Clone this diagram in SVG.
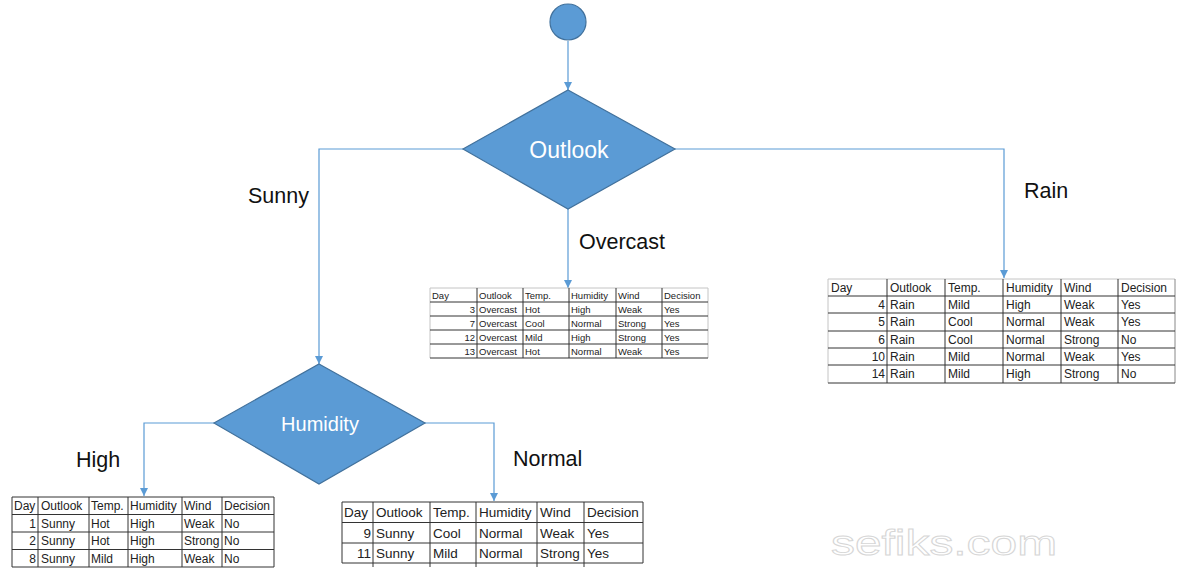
<svg xmlns="http://www.w3.org/2000/svg" width="1185" height="575" viewBox="0 0 1185 575">
<defs>
<style>
.shape{fill:#5B9BD5;stroke:#41719C;stroke-width:1.2}
.conn{fill:none;stroke:#5B9BD5;stroke-width:1.2}
.lbl{font-family:"Liberation Sans",Arial,sans-serif;font-size:21.5px;fill:#111}
.ntxt{font-family:"Liberation Sans",Arial,sans-serif;fill:#fff;text-anchor:middle}
.t{font-family:"Liberation Sans",Arial,sans-serif;fill:#222}
.r{text-anchor:end}
.dk{stroke:#333;stroke-width:1;fill:none}
.lt{stroke:#c4c4c4;stroke-width:1;fill:none}
</style>
<marker id="ah" viewBox="0 0 10 10" refX="10" refY="5" markerWidth="8" markerHeight="8" markerUnits="userSpaceOnUse" orient="auto">
<path d="M0,0 L10,5 L0,10 z" fill="#5B9BD5"/>
</marker>
</defs>
<rect width="1185" height="575" fill="#fff"/>

<g id="connectors">
<path class="conn" d="M568,41 V90" marker-end="url(#ah)"/>
<path class="conn" d="M463,149 H319 V364" marker-end="url(#ah)"/>
<path class="conn" d="M568,209 V288" marker-end="url(#ah)"/>
<path class="conn" d="M675,149 H1004 V278" marker-end="url(#ah)"/>
<path class="conn" d="M214,423 H144 V496" marker-end="url(#ah)"/>
<path class="conn" d="M425,423 H494 V501" marker-end="url(#ah)"/>
<text class="lbl" x="248" y="203">Sunny</text>
<text class="lbl" x="579" y="249">Overcast</text>
<text class="lbl" x="1024" y="198">Rain</text>
<text class="lbl" x="76" y="467">High</text>
<text class="lbl" x="513" y="466">Normal</text>
</g>

<g id="start">
<circle class="shape" cx="568" cy="22" r="18"/>
</g>

<g id="outlook">
<polygon class="shape" points="568,90 675,149 568,209 463,149"/>
<text class="ntxt" x="569" y="158" font-size="23">Outlook</text>
</g>

<g id="humidity">
<polygon class="shape" points="319,364 425,423 319,484 214,423"/>
<text class="ntxt" x="320" y="431" font-size="20">Humidity</text>
</g>

<g id="overcast-table" font-size="9.5">
<path class="lt" d="M430,288 H708 M430,288 V358 M708,288 V358"/>
<path class="dk" d="M430,302 H708 M430,316 H708 M430,330 H708 M430,344 H708 M430,358 H708 M477,288 V358 M523,288 V358 M569,288 V358 M616,288 V358 M662,288 V358"/>
<g class="t">
<text x="432" y="298.5">Day</text><text x="479" y="298.5">Outlook</text><text x="525" y="298.5">Temp.</text><text x="571" y="298.5">Humidity</text><text x="618" y="298.5">Wind</text><text x="664" y="298.5">Decision</text>
<text class="r" x="475" y="312.5">3</text><text x="479" y="312.5">Overcast</text><text x="525" y="312.5">Hot</text><text x="571" y="312.5">High</text><text x="618" y="312.5">Weak</text><text x="664" y="312.5">Yes</text>
<text class="r" x="475" y="326.5">7</text><text x="479" y="326.5">Overcast</text><text x="525" y="326.5">Cool</text><text x="571" y="326.5">Normal</text><text x="618" y="326.5">Strong</text><text x="664" y="326.5">Yes</text>
<text class="r" x="475" y="340.5">12</text><text x="479" y="340.5">Overcast</text><text x="525" y="340.5">Mild</text><text x="571" y="340.5">High</text><text x="618" y="340.5">Strong</text><text x="664" y="340.5">Yes</text>
<text class="r" x="475" y="354.5">13</text><text x="479" y="354.5">Overcast</text><text x="525" y="354.5">Hot</text><text x="571" y="354.5">Normal</text><text x="618" y="354.5">Weak</text><text x="664" y="354.5">Yes</text>
</g>
</g>

<g id="rain-table" font-size="12">
<path class="lt" d="M828,279 H1175 M828,279 V383"/>
<path d="M1175,279 V383" stroke="#888" fill="none"/>
<path class="dk" d="M828,296 H1175 M828,313 H1175 M828,331 H1175 M828,348 H1175 M828,365 H1175 M828,383 H1175 M887,279 V383 M945,279 V383 M1003,279 V383 M1061,279 V383 M1118,279 V383"/>
<g class="t">
<text x="831" y="292">Day</text><text x="890" y="292">Outlook</text><text x="948" y="292">Temp.</text><text x="1006" y="292">Humidity</text><text x="1064" y="292">Wind</text><text x="1121" y="292">Decision</text>
<text class="r" x="885" y="309">4</text><text x="890" y="309">Rain</text><text x="948" y="309">Mild</text><text x="1006" y="309">High</text><text x="1064" y="309">Weak</text><text x="1121" y="309">Yes</text>
<text class="r" x="885" y="326">5</text><text x="890" y="326">Rain</text><text x="948" y="326">Cool</text><text x="1006" y="326">Normal</text><text x="1064" y="326">Weak</text><text x="1121" y="326">Yes</text>
<text class="r" x="885" y="344">6</text><text x="890" y="344">Rain</text><text x="948" y="344">Cool</text><text x="1006" y="344">Normal</text><text x="1064" y="344">Strong</text><text x="1121" y="344">No</text>
<text class="r" x="885" y="361">10</text><text x="890" y="361">Rain</text><text x="948" y="361">Mild</text><text x="1006" y="361">Normal</text><text x="1064" y="361">Weak</text><text x="1121" y="361">Yes</text>
<text class="r" x="885" y="378">14</text><text x="890" y="378">Rain</text><text x="948" y="378">Mild</text><text x="1006" y="378">High</text><text x="1064" y="378">Strong</text><text x="1121" y="378">No</text>
</g>
</g>

<g id="high-table" font-size="12">
<path class="dk" d="M12,497 H274 M12,514.5 H274 M12,532 H274 M12,549.5 H274 M12,567 H274 M12,497 V567 M38,497 V567 M89,497 V567 M128,497 V567 M182,497 V567 M222,497 V567 M274,497 V567"/>
<g class="t">
<text x="14" y="510">Day</text><text x="41" y="510">Outlook</text><text x="91" y="510">Temp.</text><text x="130" y="510">Humidity</text><text x="184" y="510">Wind</text><text x="224" y="510">Decision</text>
<text class="r" x="36" y="527.5">1</text><text x="41" y="527.5">Sunny</text><text x="91" y="527.5">Hot</text><text x="130" y="527.5">High</text><text x="184" y="527.5">Weak</text><text x="224" y="527.5">No</text>
<text class="r" x="36" y="545">2</text><text x="41" y="545">Sunny</text><text x="91" y="545">Hot</text><text x="130" y="545">High</text><text x="184" y="545">Strong</text><text x="224" y="545">No</text>
<text class="r" x="36" y="562.5">8</text><text x="41" y="562.5">Sunny</text><text x="91" y="562.5">Mild</text><text x="130" y="562.5">High</text><text x="184" y="562.5">Weak</text><text x="224" y="562.5">No</text>
</g>
</g>

<g id="normal-table" font-size="13.5">
<path class="dk" d="M342,502 H643 M342,522.5 H643 M342,543 H643 M342,563 H643 M342,502 V563 M373,502 V567 M430,502 V567 M476,502 V567 M537,502 V567 M584,502 V567 M643,502 V563"/>
<g class="t">
<text x="344" y="517">Day</text><text x="376" y="517">Outlook</text><text x="433" y="517">Temp.</text><text x="479" y="517">Humidity</text><text x="540" y="517">Wind</text><text x="587" y="517">Decision</text>
<text class="r" x="371" y="537.5">9</text><text x="376" y="537.5">Sunny</text><text x="433" y="537.5">Cool</text><text x="479" y="537.5">Normal</text><text x="540" y="537.5">Weak</text><text x="587" y="537.5">Yes</text>
<text class="r" x="371" y="558">11</text><text x="376" y="558">Sunny</text><text x="433" y="558">Mild</text><text x="479" y="558">Normal</text><text x="540" y="558">Strong</text><text x="587" y="558">Yes</text>
</g>
</g>

<text x="831" y="555" font-family="Liberation Sans, Arial, sans-serif" font-size="35" fill="#fff" stroke="#d6d6d6" stroke-width="0.9" textLength="226" lengthAdjust="spacingAndGlyphs">sefiks.com</text>
</svg>
